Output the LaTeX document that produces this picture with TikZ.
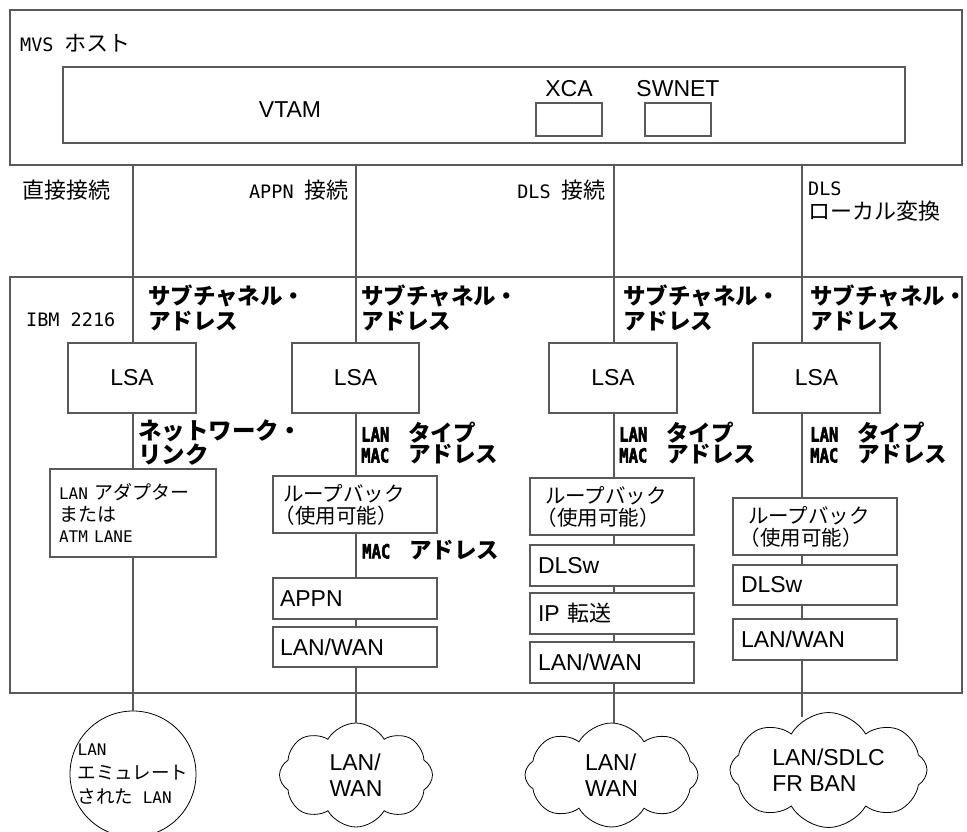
\documentclass[tikz,border=0pt]{standalone}
\usepackage{fontspec}
\usepackage{graphicx}
\setmainfont{Liberation Sans}
\newfontfamily\jp{Noto Sans CJK JP}
\newfontfamily\mono{DejaVu Sans Mono}
\newfontfamily\monob[FakeBold=3]{DejaVu Sans Mono}
\usetikzlibrary{shapes.symbols}
\newcommand\hw[1]{{\mono\fontsize{18.5}{18.5}\selectfont #1}}
\newcommand\hwb[1]{\scalebox{0.8}[1]{\monob\fontsize{19.5}{19.5}\selectfont #1}}
\newcommand\hws[1]{{\mono\fontsize{16}{16}\selectfont #1}}
\newcommand\sfx{\fontsize{23}{26}\selectfont}
\newcommand\lparen{\leavevmode\kern-0.4em（}
\begin{document}
\begin{tikzpicture}[x=1pt,y=-1pt,
  bx/.style={draw=black!65, line width=1.2pt, rectangle, inner sep=0pt},
  tbx/.style={bx, align=left, inner ysep=0pt},
  conn/.style={draw=black!65, line width=1.2pt},
  lbl/.style={inner sep=0pt, align=left, anchor=west, font=\jp\fontsize{22}{24}\selectfont},
  bl/.style={lbl, font=\jp\bfseries\fontsize{22.5}{25}\selectfont},
  sfl/.style={inner sep=0pt, font=\sfx},
  cl/.style={cloud, cloud ignores aspect, draw=black, line width=0.8pt, cloud puffs=8, cloud puff arc=120, inner sep=0pt, align=left, font=\sfx}]
\clip (0,0) rectangle (967,832);
\useasboundingbox (0,0) rectangle (967,832);
\fill[white] (0,0) rectangle (967,832);

% column x positions
\coordinate (c1) at (133,0);
\coordinate (c2) at (356,0);
\coordinate (c3) at (614,0);
\coordinate (c4) at (802,0);

% MVS host
\node[bx, minimum width=952pt, minimum height=155pt] (mvs) at (486,87.5) {};
\node[lbl] (mvsl) at (20,43) {\hw{MVS }ホスト};
\node[bx, minimum width=842pt, minimum height=76pt] (vtam) at (484,105) {};
\node[sfl] (vtaml) at (290,110) {VTAM};
\node[bx, minimum width=66pt, minimum height=33pt] (xca) at (569,119.5) {};
\node[sfl] (xcal) at (569,89) {XCA};
\node[bx, minimum width=66pt, minimum height=33pt] (swnet) at (678,119.5) {};
\node[sfl] (swnetl) at (678,89) {SWNET};

% connection labels
\node[lbl] (k1) at (22,190) {直接接続};
\node[lbl, anchor=east] (k2) at (349,190) {\hw{APPN }接続};
\node[lbl, anchor=east] (k3) at (606,190) {\hw{DLS }接続};
\node[lbl] (k4) at (808,202) {\hw{DLS}\\ローカル変換};

% IBM 2216
\node[bx, minimum width=952pt, minimum height=416pt] (ibm) at (486,485) {};
\node[lbl] (ibml) at (26,320) {\hw{IBM 2216}};

\node[bl] (sa1) at (148,307.5) {サブチャネル・\\アドレス};
\node[bl] (sa2) at (361,307.5) {サブチャネル・\\アドレス};
\node[bl] (sa3) at (623,307.5) {サブチャネル・\\アドレス};
\node[bl] (sa4) at (810,307.5) {サブチャネル・\\アドレス};

\node[bx, minimum width=128pt, minimum height=70pt, font=\sfx] (lsa1) at (132,378) {LSA};
\node[bx, minimum width=127pt, minimum height=70pt, font=\sfx] (lsa2) at (355.5,378) {LSA};
\node[bx, minimum width=128pt, minimum height=70pt, font=\sfx] (lsa3) at (613,378) {LSA};
\node[bx, minimum width=127pt, minimum height=70pt, font=\sfx] (lsa4) at (816.5,378) {LSA};

\node[bl, font=\jp\bfseries\fontsize{23.5}{21.5}\selectfont] (nl1) at (138,442.5) {ネットワーク・\\リンク};
\node[bl, font=\jp\bfseries\fontsize{22.5}{21}\selectfont] (lt2) at (361,443) {\hwb{LAN}\hspace{19pt}タイプ\\\hwb{MAC}\hspace{19pt}アドレス};
\node[bl, font=\jp\bfseries\fontsize{22.5}{21}\selectfont] (lt3) at (619,443) {\hwb{LAN}\hspace{19pt}タイプ\\\hwb{MAC}\hspace{19pt}アドレス};
\node[bl, font=\jp\bfseries\fontsize{22.5}{21}\selectfont] (lt4) at (810,443) {\hwb{LAN}\hspace{19pt}タイプ\\\hwb{MAC}\hspace{19pt}アドレス};
\node[bl, font=\jp\bfseries\fontsize{22.5}{21}\selectfont] (ma2) at (362,550) {\hwb{MAC}\hspace{19pt}アドレス};

% column 1
\node[tbx, text width=148pt, inner xsep=9pt, minimum height=88pt, font=\jp\fontsize{19}{21.5}\selectfont] (lanad) at (133,513)
  {\hws{LAN }アダプター\\または\\\hws{ATM LANE}};
% column 2
\node[tbx, text width=144pt, inner xsep=10pt, minimum height=57pt, font=\jp\fontsize{20.5}{22}\selectfont] (lb2) at (355,504.5)
  {ループバック\\\lparen 使用可能）};
\node[tbx, text width=150pt, inner xsep=7pt, minimum height=41pt, font=\sfx] (appn) at (355,598.5) {APPN};
\node[tbx, text width=150pt, inner xsep=7pt, minimum height=40pt, font=\sfx] (lw2) at (355,647) {LAN/WAN};
% column 3
\node[tbx, text width=134pt, inner xsep=15pt, minimum height=57pt, font=\jp\fontsize{20.5}{22}\selectfont] (lb3) at (612,506.5)
  {ループバック\\\lparen 使用可能）};
\node[tbx, text width=148pt, inner xsep=8pt, minimum height=41pt, font=\sfx] (dl3) at (612,565.5) {DLSw};
\node[tbx, text width=148pt, inner xsep=8pt, minimum height=41pt, font=\sfx] (ip3) at (612,613.5) {IP {\jp\fontsize{22}{22}\selectfont 転送}};
\node[tbx, text width=148pt, inner xsep=8pt, minimum height=41pt, font=\sfx] (lw3) at (612,662.5) {LAN/WAN};
% column 4
\node[tbx, text width=134pt, inner xsep=15pt, minimum height=57pt, font=\jp\fontsize{20.5}{22}\selectfont] (lb4) at (815,526.5)
  {ループバック\\\lparen 使用可能）};
\node[tbx, text width=148pt, inner xsep=8pt, minimum height=40pt, font=\sfx] (dl4) at (815,585) {DLSw};
\node[tbx, text width=148pt, inner xsep=8pt, minimum height=41pt, font=\sfx] (lw4) at (815,639.5) {LAN/WAN};

% networks
\node[circle, draw=black, line width=0.8pt, minimum size=126pt, inner sep=0pt, align=left,
      font=\jp\fontsize{18.5}{24}\selectfont] (elan) at (133,774)
  {\hws{LAN}\\エミュレート\\された\hws{ LAN}};
\node[cl, minimum width=153pt, minimum height=104pt] (cw1) at (356,775) {LAN/\\WAN};
\node[cl, minimum width=173pt, minimum height=104pt] (cw3) at (611.5,775) {LAN/\\WAN};
\node[cl, minimum width=197pt, minimum height=115pt] (cw4) at (828.5,770) {LAN/SDLC\\FR BAN};

% connectors
\draw[conn] (mvs.south -| c1) -- (lsa1.north -| c1);
\draw[conn] (lsa1.south -| c1) -- (lanad.north -| c1);
\draw[conn] (lanad.south -| c1) -- (elan.north);

\draw[conn] (mvs.south -| c2) -- (lsa2.north -| c2);
\draw[conn] (lsa2.south -| c2) -- (lb2.north -| c2);
\draw[conn] (lb2.south -| c2) -- (appn.north -| c2);
\draw[conn] (appn.south -| c2) -- (lw2.north -| c2);
\draw[conn] (lw2.south -| c2) -- (cw1.north -| c2);

\draw[conn] (mvs.south -| c3) -- (lsa3.north -| c3);
\draw[conn] (lsa3.south -| c3) -- (lb3.north -| c3);
\draw[conn] (lb3.south -| c3) -- (dl3.north -| c3);
\draw[conn] (dl3.south -| c3) -- (ip3.north -| c3);
\draw[conn] (ip3.south -| c3) -- (lw3.north -| c3);
\draw[conn] (lw3.south -| c3) -- (cw3.north -| c3);

\draw[conn] (mvs.south -| c4) -- (lsa4.north -| c4);
\draw[conn] (lsa4.south -| c4) -- (lb4.north -| c4);
\draw[conn] (lb4.south -| c4) -- (dl4.north -| c4);
\draw[conn] (dl4.south -| c4) -- (lw4.north -| c4);
\draw[conn] (lw4.south -| c4) -- ([yshift=-5pt]cw4.north -| c4);
\end{tikzpicture}
\end{document}
